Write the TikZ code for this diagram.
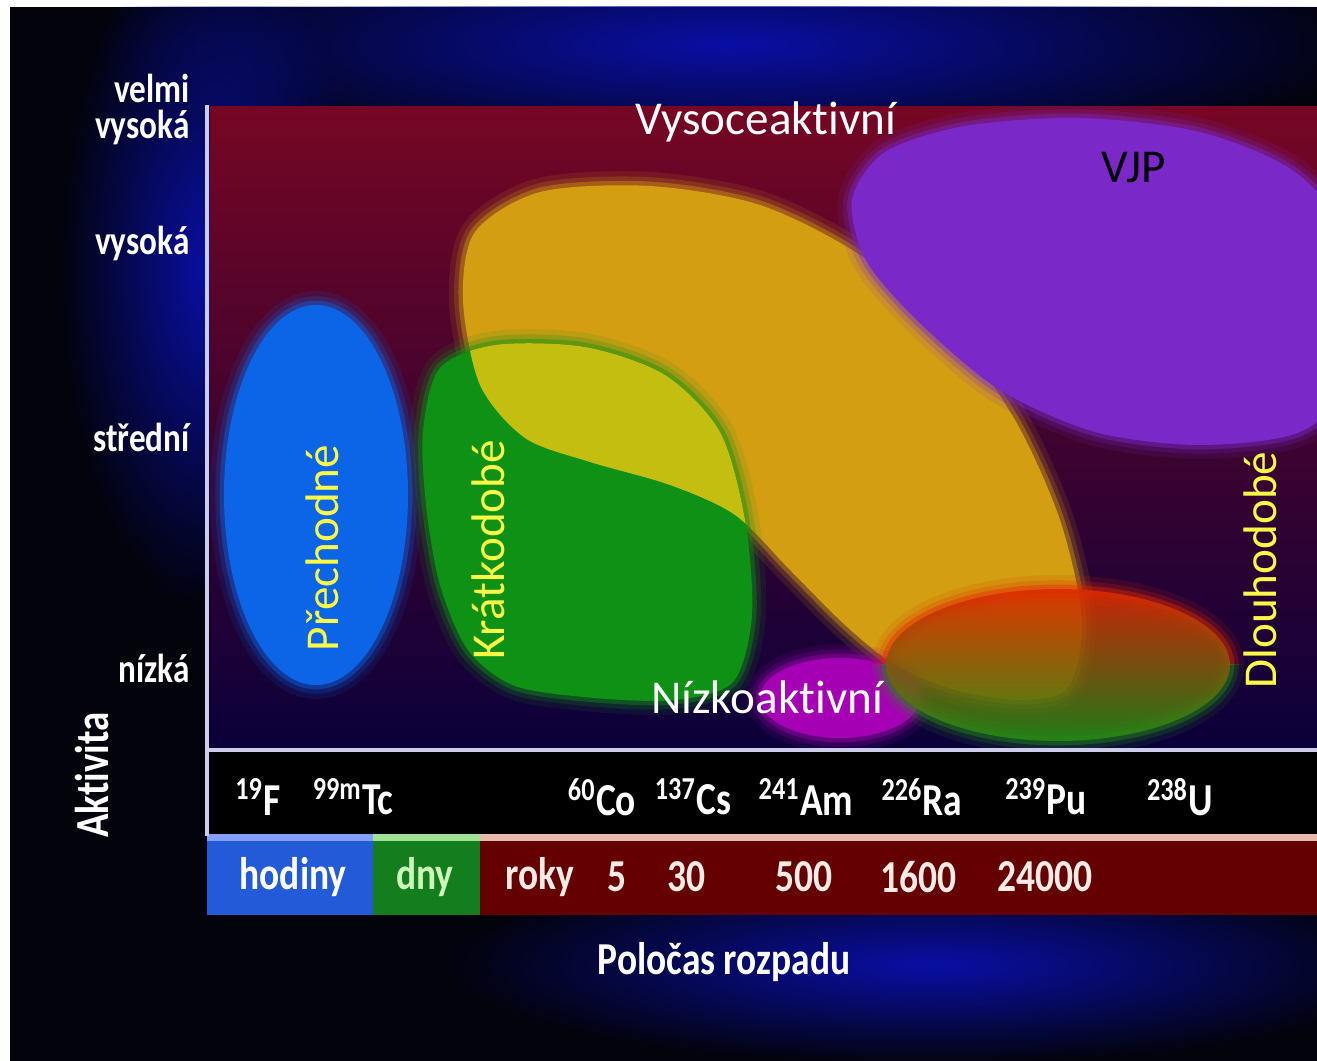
\documentclass[tikz,border=0pt]{standalone}
\usepackage{fontspec}
\setmainfont{Carlito}[Ligatures=CommonOff]
\usetikzlibrary{fadings}

\definecolor{bgdark}{RGB}{3,3,12}
\definecolor{glowblue}{RGB}{10,15,165}
\definecolor{plottop}{RGB}{118,6,36}
\definecolor{plotmid}{RGB}{55,0,45}
\definecolor{plotbot}{RGB}{10,0,58}
\definecolor{axisline}{RGB}{205,205,235}
\definecolor{hlwblue}{RGB}{12,100,230}
\definecolor{hlworange}{RGB}{212,158,18}
\definecolor{hlwgreen}{RGB}{14,145,20}
\definecolor{hlwyellow}{RGB}{195,190,15}
\definecolor{hlwpurple}{RGB}{122,40,200}
\definecolor{hlwmagenta}{RGB}{165,0,180}
\definecolor{vjpred}{RGB}{225,40,0}
\definecolor{vjpgreen}{RGB}{35,140,20}
\definecolor{labelyellow}{RGB}{250,250,70}
\definecolor{barblue}{RGB}{35,90,215}
\definecolor{bargreen}{RGB}{20,125,30}
\definecolor{barred}{RGB}{100,0,2}
\definecolor{stripeblue}{RGB}{130,160,255}
\definecolor{stripegreen}{RGB}{160,225,150}
\definecolor{stripered}{RGB}{230,185,175}
\definecolor{dnytext}{RGB}{205,245,185}
\definecolor{rokytext}{RGB}{250,235,230}

\tikzfading[name=glowfade, inner color=transparent!0, outer color=transparent!100]

% blob outlines, in pixels of the slide
\newcommand{\orangeblob}{plot[smooth cycle] coordinates {(463,300) (475,232) (540,192) (650,186) (760,205) (860,255) (950,330) (1015,420) (1060,520) (1082,620) (1068,688) (1020,700) (955,690) (895,665) (845,625) (790,570) (735,515) (670,485) (590,462) (525,438) (480,385)}}
\newcommand{\greenblob}{plot[smooth cycle] coordinates {(423,430) (440,368) (495,345) (585,347) (665,375) (720,432) (745,520) (752,615) (733,682) (675,700) (595,698) (515,686) (468,650) (440,585) (426,505)}}
\newcommand{\purpleblob}{plot[smooth cycle] coordinates {(852,200) (885,152) (965,126) (1080,118) (1200,132) (1295,172) (1345,240) (1345,380) (1300,432) (1200,445) (1095,432) (1000,390) (922,325) (867,262)}}
\newcommand{\lowblob}{(1058,665) ellipse (172 and 76)}

\tikzset{
  halo/.style={preaction={draw=#1, line width=8pt, draw opacity=.12},
    preaction={draw=#1, line width=5pt, draw opacity=.2},
    preaction={draw=#1, line width=2.5pt, draw opacity=.4}},
  blob/.style={halo=#1, fill=#1},
  cat/.style={font=\fontsize{13.4}{15}\selectfont, text=white, inner sep=0pt},
  rotcat/.style={cat, text=labelyellow, rotate=90},
  ax/.style={font=\bfseries\fontsize{11.5}{13}\selectfont, text=white, xscale=.82, inner sep=0pt, anchor=east},
  axv/.style={font=\bfseries\fontsize{13.5}{15}\selectfont, text=white, inner sep=0pt, rotate=90, xscale=.82},
  iso/.style={font=\bfseries\fontsize{13}{15}\selectfont, text=white, xscale=.82, inner sep=0pt}
}

\begin{document}
\begin{tikzpicture}[x=0.01cm, y=-0.01cm]
\useasboundingbox (0,0) rectangle (1317,1061);

% background
\fill[white] (0,0) rectangle (1317,1061);
\fill[bgdark] (10,7) rectangle (1317,1061);
\begin{scope}
  \clip (10,7) rectangle (1317,1061);
  \fill[glowblue, path fading=glowfade] (730,45) ellipse (640 and 125);
  \fill[glowblue, path fading=glowfade] (210,270) ellipse (150 and 340);
  \fill[glowblue, path fading=glowfade] (930,965) ellipse (480 and 100);
\end{scope}

% plot area
\coordinate (ptl) at (210,107);
\coordinate (pbr) at (1317,750);
\shade[top color=plottop, middle color=plotmid, bottom color=plotbot] (ptl) rectangle (pbr);

\begin{scope}
  \clip (ptl) rectangle (pbr);
  \path[blob=hlwblue] (316,495) ellipse (92 and 190);
  \path[blob=hlworange] \orangeblob;
  \path[blob=hlwgreen] \greenblob;
  \begin{scope}
    \clip \orangeblob;
    \fill[hlwyellow] \greenblob;
  \end{scope}
  \path[blob=hlwpurple] \purpleblob;
  \path[blob=hlwmagenta] (840,698) ellipse (80 and 40);
  \begin{scope}
    \clip (860,560) rectangle (1260,665);
    \path[halo=vjpred] \lowblob;
  \end{scope}
  \begin{scope}
    \clip (860,665) rectangle (1260,760);
    \path[halo=vjpgreen] \lowblob;
  \end{scope}
  \shade[top color=vjpred, bottom color=vjpgreen, opacity=.88] \lowblob;
\end{scope}

% isotope row and time bar
\fill[black] (210,752) rectangle (1317,834);
\fill[barblue] (207,838) rectangle (373,915);
\fill[bargreen] (373,838) rectangle (480,915);
\fill[barred] (480,838) rectangle (1317,915);
\fill[stripeblue] (207,834) rectangle (373,841);
\fill[stripegreen] (373,834) rectangle (480,841);
\fill[stripered] (480,834) rectangle (1317,841);

% axes
\draw[axisline, line width=1.4pt] (207,105) -- (207,836);
\draw[axisline, line width=1.4pt] (207,750) -- (1317,750);

% category labels
\node[cat] (vysoce) at (766,122) {Vysoceaktivní};
\node[cat, text=black] (vjp) at (1134,168) {VJP};
\node[cat] (nizko) at (767,697) {Nízkoaktivní};
\node[rotcat] (prechodne) at (322,548) {Přechodné};
\node[rotcat] (kratkodobe) at (488,550) {Krátkodobé};
\node[rotcat] (dlouhodobe) at (1260,570) {Dlouhodobé};

% activity axis
\node[ax] (velmi) at (190,88) {velmi};
\node[ax] (velmivys) at (190,127) {vysoká};
\node[ax] (vysoka) at (190,243) {vysoká};
\node[ax] (stredni) at (190,437) {střední};
\node[ax] (nizka) at (190,668) {nízká};
\node[axv] (aktivita) at (92,775) {Aktivita};

% isotopes
\node[iso] (fluor) at (258,797) {\textsuperscript{19}F};
\node[iso] (tech) at (353,797) {\textsuperscript{99m}Tc};
\node[iso] (cobalt) at (602,797) {\textsuperscript{60}Co};
\node[iso] (cesium) at (693,797) {\textsuperscript{137}Cs};
\node[iso] (americ) at (806,797) {\textsuperscript{241}Am};
\node[iso] (radium) at (922,797) {\textsuperscript{226}Ra};
\node[iso] (pluton) at (1046,797) {\textsuperscript{239}Pu};
\node[iso] (uran) at (1180,797) {\textsuperscript{238}U};

% half-life bar
\node[iso] (hodiny) at (293,877) {hodiny};
\node[iso, text=dnytext] (dny) at (425,877) {dny};
\node[iso, text=rokytext] (roky) at (540,877) {roky};
\node[iso, text=rokytext] (t5) at (617,877) {5};
\node[iso, text=rokytext] (t30) at (686,877) {30};
\node[iso, text=rokytext] (t500) at (804,877) {500};
\node[iso, text=rokytext] (t1600) at (918,877) {1600};
\node[iso, text=rokytext] (t24000) at (1045,877) {24000};
\node[iso] (polocas) at (724,962) {Poločas rozpadu};

\end{tikzpicture}
\end{document}
